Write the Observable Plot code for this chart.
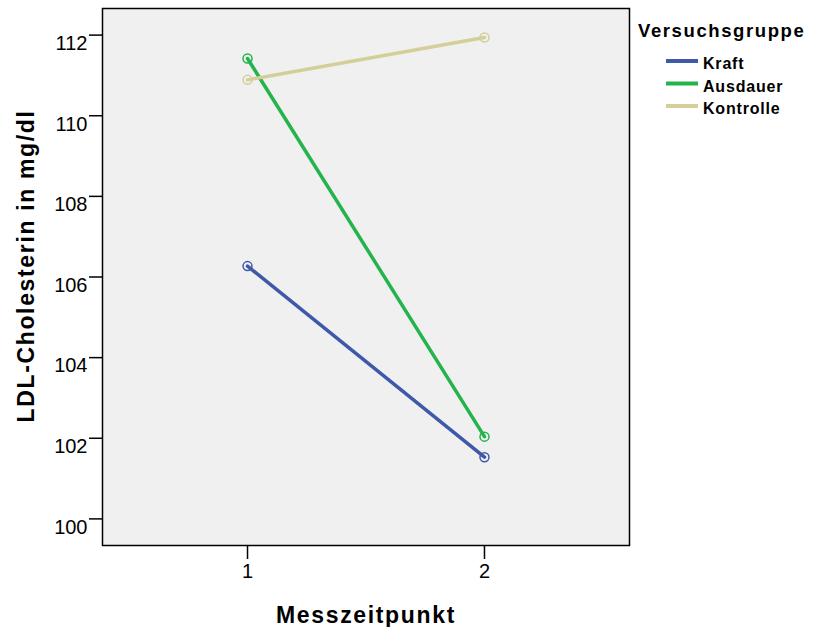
<!DOCTYPE html>
<html><head><meta charset="utf-8">
<script src="https://cdn.jsdelivr.net/npm/d3@7"></script>
<script src="https://cdn.jsdelivr.net/npm/@observablehq/plot@0.6"></script>
<style>body{margin:0;background:#fff;} #chart{width:813px;height:627px}</style>
</head><body><div id="chart"></div>
<script>
const groups = ["Kraft", "Ausdauer", "Kontrolle"];
const colors = ["#3f59aa", "#25b34b", "#d4cf98"];
const timepoints = [1, 2];
const kraft = [106.27, 101.53];
const ausdauer = [111.42, 102.04];
const kontrolle = [110.89, 111.94];
const yTicks = [100, 102, 104, 106, 108, 110, 112];
const xTicks = [1, 2];
const xLabel = "Messzeitpunkt";
const yLabel = "LDL-Cholesterin in mg/dl";
const legendTitle = "Versuchsgruppe";

const data = [];
[kraft, ausdauer, kontrolle].forEach((vals, i) =>
  vals.forEach((v, j) => data.push({group: groups[i], t: timepoints[j], value: v})));

const font = "'Liberation Sans', Arial, sans-serif";
const plot = Plot.plot({
  width: 813, height: 627,
  marginLeft: 102, marginRight: 184, marginTop: 8, marginBottom: 82,
  style: {fontFamily: font, background: "#fff", color: "#000"},
  x: {domain: [0.388, 2.612]},
  y: {domain: [99.34, 112.66]},
  color: {domain: groups, range: colors},
  marks: [
    Plot.frame({fill: "#f0f0f0"}),
    Plot.axisX({ticks: xTicks, tickSize: 14, tickPadding: 4, fontSize: 20, label: null, tickFormat: d => String(d), strokeWidth: 1.5}),
    Plot.axisY({ticks: yTicks, tickSize: 13, tickPadding: 2, fontSize: 20, label: null, tickFormat: d => String(d), strokeWidth: 1.5}),
    Plot.lineY(data, {x: "t", y: "value", z: "group", stroke: "group", strokeWidth: 3.5}),
    Plot.dot(data, {x: "t", y: "value", stroke: "group", r: 4.5, strokeWidth: 1.5}),
    Plot.frame({stroke: "#000", strokeWidth: 1.5}),
    Plot.text([xLabel], {frameAnchor: "bottom", textAnchor: "middle", lineAnchor: "bottom", dy: 77, fontSize: 23, fontWeight: "bold"}),
    Plot.text([yLabel], {frameAnchor: "left", textAnchor: "middle", lineAnchor: "bottom", rotate: -90, dx: -69, dy: -11, fontSize: 23, fontWeight: "bold"})
  ]
});

const svg = d3.select(plot);
svg.selectAll("text").filter(function() { return this.textContent === xLabel || this.textContent === yLabel; })
  .style("letter-spacing", "1.65px");
// SPSS places y tick labels slightly below the tick marks
svg.selectAll('g[aria-label="y-axis tick label"] text').attr("dy", "0.42em");

const lg = svg.append("g").attr("font-family", font).attr("font-weight", "bold").attr("text-anchor", "start");
lg.append("text").attr("x", 638).attr("y", 37).attr("font-size", 18.5)
  .style("letter-spacing", "1.6px").text(legendTitle);
groups.forEach((g, i) => {
  lg.append("line").attr("x1", 666).attr("x2", 698)
    .attr("y1", 61 + 22.5 * i).attr("y2", 61 + 22.5 * i)
    .attr("stroke", colors[i]).attr("stroke-width", 4);
  lg.append("text").attr("x", 703).attr("y", 69 + 22.5 * i).attr("font-size", 16)
    .style("letter-spacing", "0.8px").text(g);
});

document.getElementById("chart").appendChild(plot);
</script>
</body></html>
